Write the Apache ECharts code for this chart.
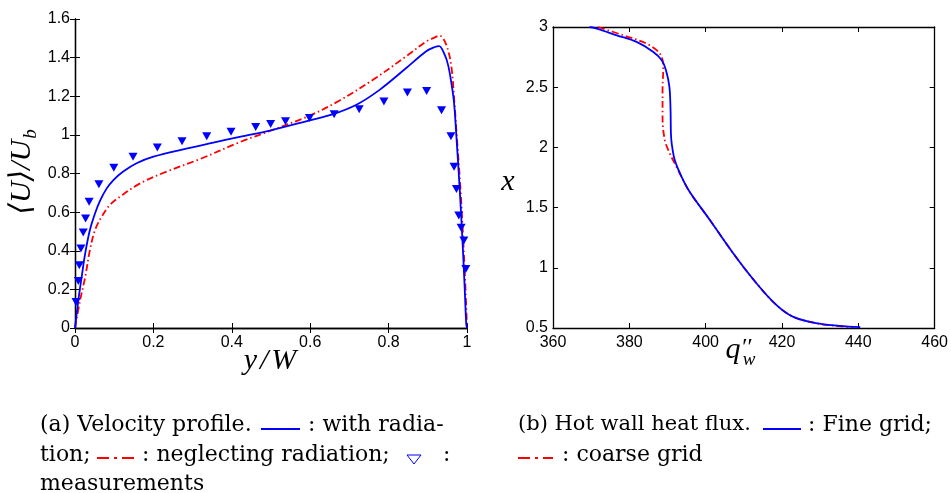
<!DOCTYPE html>
<html>
<head>
<meta charset="utf-8">
<script src="https://cdn.jsdelivr.net/npm/echarts@6/dist/echarts.min.js"></script>
<style>
html,body{margin:0;padding:0;background:#fff;}
#c{width:951px;height:493px;}
</style>
</head>
<body>
<div id="c"></div>
<script>
// (a) Velocity profile
const radX = [0,0.0085,0.017,0.026,0.038,0.051,0.064,0.081,0.098,0.123,0.157,0.2,0.276,0.353,0.42,0.497,0.599,0.658,0.718,0.777,0.845,0.896,0.918,0.929,0.943,0.952,0.96,0.967,0.973,0.981,0.988,0.994,0.998,1];
const radY = [0,0.143,0.264,0.386,0.507,0.593,0.66,0.723,0.766,0.81,0.853,0.887,0.925,0.96,0.99,1.022,1.075,1.107,1.156,1.233,1.346,1.433,1.455,1.46,1.415,1.36,1.27,1.165,0.991,0.732,0.472,0.212,0.022,0];
const noRadX = [0,0.013,0.026,0.038,0.051,0.068,0.089,0.115,0.166,0.234,0.319,0.42,0.497,0.599,0.675,0.76,0.845,0.896,0.918,0.93,0.947,0.96,0.968,0.974,0.983,0.99,0.996,1];
const noRadY = [0,0.143,0.264,0.403,0.507,0.576,0.637,0.68,0.749,0.81,0.875,0.962,1.02,1.1,1.178,1.285,1.407,1.484,1.505,1.514,1.467,1.355,1.165,0.991,0.732,0.472,0.212,0];
const measX = [0.0026,0.0085,0.011,0.015,0.021,0.027,0.036,0.061,0.099,0.148,0.21,0.273,0.336,0.398,0.461,0.499,0.537,0.598,0.661,0.725,0.788,0.848,0.897,0.935,0.959,0.967,0.973,0.979,0.985,0.992,0.997];
const measY = [0.135,0.244,0.325,0.412,0.495,0.567,0.654,0.744,0.83,0.887,0.934,0.967,0.993,1.016,1.041,1.056,1.071,1.088,1.107,1.133,1.173,1.22,1.227,1.128,0.993,0.835,0.72,0.583,0.519,0.453,0.306];
const velXTicks = {min:0, max:1, interval:0.2};
const velYTicks = {min:0, max:1.6, interval:0.2};

// (b) Hot wall heat flux
const fineQ = [369.6,371.5,376.7,381.9,386.3,388.5,389.6,390.5,390.8,390.9,391.1,391.9,393.7,395.8,401.1,407.2,413.3,418.5,422.8,428.9,435,440.5];
const fineX = [3,2.987,2.931,2.876,2.793,2.724,2.641,2.503,2.309,2.116,2.033,1.895,1.756,1.632,1.397,1.121,0.872,0.692,0.595,0.54,0.518,0.507];
const coarseQ = [371.8,378.4,384.5,388,388.9,388.7,388.7,389.3,390.6,391.9,394.1,396,401.1,407.2,413.3,418.5,422.8,428.9,435,438.5];
const coarseX = [3,2.931,2.862,2.779,2.668,2.475,2.254,2.06,1.95,1.867,1.729,1.62,1.397,1.121,0.872,0.692,0.595,0.54,0.515,0.508];
const fluxXTicks = {min:360, max:460, interval:20};
const fluxYTicks = {min:0.5, max:3, interval:0.5};

const zip = (a,b) => a.map((v,i)=>[v,b[i]]);
const BLUE = '#0000ff', RED = '#ff0000';
const dashDot = [7,3,1.5,3];
const tickFont = {color:'#000', fontSize:16, fontFamily:'Liberation Sans, Arial, sans-serif'};
const axLine = {show:true, lineStyle:{color:'#000', width:1.3}};
const axTick = {show:true, inside:true, length:5, lineStyle:{color:'#000', width:1}};

function mkAxis(grid, pos, t, labels){
  return Object.assign({type:'value', gridIndex:grid, position:pos,
    axisLine:axLine, axisTick:axTick, splitLine:{show:false},
    axisLabel: labels ? Object.assign({show:true, margin: (pos==='bottom'?7:5)}, tickFont) : {show:false}
  }, t);
}

const serif = 'DejaVu Serif, serif';
const math = 'Liberation Serif, DejaVu Serif, serif';
function txt(x,y,s,opt){
  return {type:'text', x:x, y:y, style:Object.assign({text:s, fill:'#000', font:'22px '+serif, align:'left', verticalAlign:'middle'}, opt||{})};
}

const chart = echarts.init(document.getElementById('c'), null, {renderer:'canvas'});
chart.setOption({
  animation:false,
  backgroundColor:'#fff',
  grid:[
    {left:75, top:19, width:392, height:309},
    {left:553, top:27, width:383, height:301}
  ],
  xAxis:[
    mkAxis(0,'bottom',velXTicks,true),
    mkAxis(0,'top',velXTicks,false),
    mkAxis(1,'bottom',fluxXTicks,true),
    mkAxis(1,'top',fluxXTicks,false)
  ],
  yAxis:[
    mkAxis(0,'left',velYTicks,true),
    mkAxis(0,'right',velYTicks,false),
    mkAxis(1,'left',fluxYTicks,true),
    mkAxis(1,'right',fluxYTicks,false)
  ],
  series:[
    {name:'with radiation', type:'line', xAxisIndex:0, yAxisIndex:0, data:zip(radX,radY), showSymbol:false, symbol:'none', smooth:0.35, lineStyle:{color:BLUE, width:1.8}, z:3},
    {name:'neglecting radiation', type:'line', xAxisIndex:0, yAxisIndex:0, data:zip(noRadX,noRadY), showSymbol:false, symbol:'none', smooth:0.35, lineStyle:{color:RED, width:1.8, type:dashDot}, z:2},
    {name:'measurements', type:'scatter', xAxisIndex:0, yAxisIndex:0, data:zip(measX,measY), symbol:'triangle', symbolRotate:180, symbolSize:[9,8], itemStyle:{color:BLUE, opacity:1}, z:4},
    {name:'Fine grid', type:'line', xAxisIndex:2, yAxisIndex:2, data:zip(fineQ,fineX), showSymbol:false, symbol:'none', smooth:0.35, lineStyle:{color:BLUE, width:1.8}, z:3},
    {name:'coarse grid', type:'line', xAxisIndex:2, yAxisIndex:2, data:zip(coarseQ,coarseX), showSymbol:false, symbol:'none', smooth:0.35, lineStyle:{color:RED, width:1.8, type:dashDot}, z:2}
  ],
  graphic:[
    // axis titles
    {type:'text', x:22, y:172, rotation:Math.PI/2, style:{
      text:'{m|⟨U⟩/U}{s|b}', align:'center', verticalAlign:'middle',
      rich:{m:{font:'italic 30px '+math, fill:'#000', lineHeight:36}, s:{font:'italic 19px '+math, fill:'#000', verticalAlign:'bottom', lineHeight:36, padding:[0,0,0,1]}}
    }},
    {type:'text', x:270, y:361, style:{
      text:'{v|y}{s|/}{v|W}', align:'center', verticalAlign:'middle',
      rich:{v:{font:'italic 30px '+math, fill:'#000'}, s:{font:'italic 30px '+math, fill:'#000', padding:[0,3]}}
    }},
    {type:'text', x:508, y:182, style:{text:'x', font:'italic 30px '+math, fill:'#000', align:'center', verticalAlign:'middle'}},
    {type:'text', x:733, y:350, style:{text:'q', font:'italic 30px '+math, fill:'#000', align:'center', verticalAlign:'middle'}},
    {type:'text', x:746, y:348, style:{text:'′′', font:'italic 24px '+math, fill:'#000', align:'center', verticalAlign:'middle'}},
    {type:'text', x:749, y:360, style:{text:'w', font:'italic 19px '+math, fill:'#000', align:'center', verticalAlign:'middle'}},

    // caption (a)
    txt(40,425,'(a) Velocity profile.'),
    {type:'line', shape:{x1:261,y1:429,x2:300,y2:429}, style:{stroke:BLUE, lineWidth:2}},
    txt(308,425,': with radia-'),
    txt(40,455,'tion;'),
    {type:'line', shape:{x1:97,y1:458,x2:134,y2:458}, style:{stroke:RED, lineWidth:2, lineDash:[12,5,3,5]}},
    txt(142,455,': neglecting radiation;'),
    {type:'polygon', shape:{points:[[407,455],[421,455],[414,464]]}, style:{stroke:BLUE, fill:'none', lineWidth:1}},
    txt(443,455,':'),
    txt(40,484,'measurements'),

    // caption (b)
    txt(518,425,'(b) Hot wall heat flux.', {font:'21px '+serif}),
    {type:'line', shape:{x1:763,y1:429,x2:801,y2:429}, style:{stroke:BLUE, lineWidth:2}},
    txt(808,425,': Fine grid;'),
    {type:'line', shape:{x1:518,y1:458,x2:553,y2:458}, style:{stroke:RED, lineWidth:2, lineDash:[12,5,3,5]}},
    txt(562,455,': coarse grid')
  ]
});
</script>
</body>
</html>
